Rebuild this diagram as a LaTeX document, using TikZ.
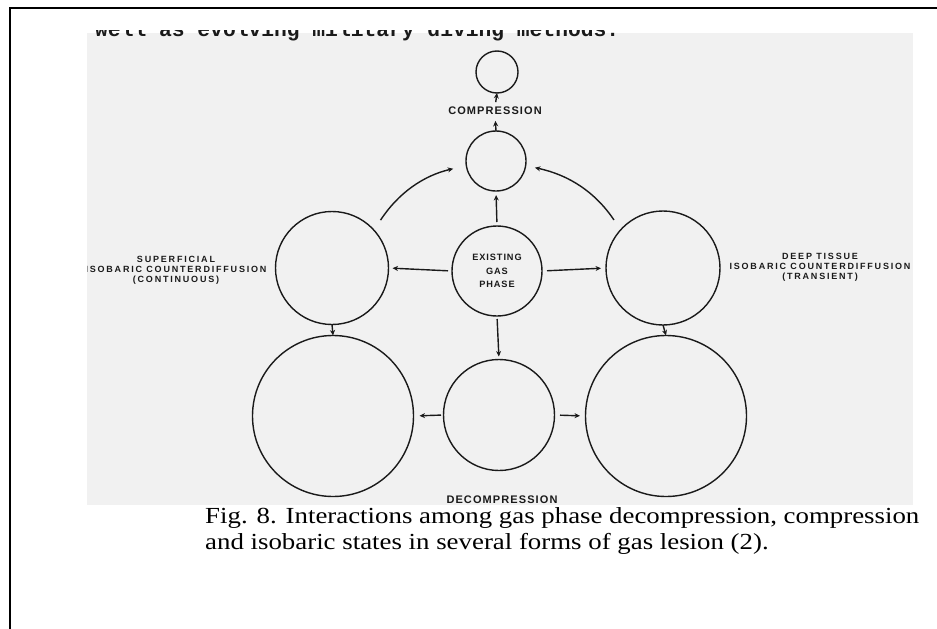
\documentclass[tikz,border=0pt]{standalone}
\usepackage{fontspec}
\setmainfont{Liberation Serif}
\newfontfamily\labfont[LetterSpace=10]{Liberation Sans}
\newfontfamily\widelabfont[LetterSpace=20]{Liberation Sans}
\newfontfamily\typefont{Liberation Mono}
\usetikzlibrary{arrows.meta,calc}
\definecolor{scan}{HTML}{F1F1F1}
\definecolor{ink}{HTML}{1A1A1A}
\begin{document}
\begin{tikzpicture}[x=1pt,y=-1pt,
  circ/.style={circle,draw=ink,line width=1.4pt,inner sep=0pt,outer sep=0pt},
  arr/.style={draw=ink,line width=1.4pt,-{Stealth[length=5.5pt,width=5pt]}},
  lab/.style={text=ink,font=\labfont\bfseries\fontsize{11}{12}\selectfont,inner sep=0pt,outer sep=0pt,align=center},
  midlab/.style={text=ink,font=\labfont\bfseries\fontsize{9.2}{13.5}\selectfont,align=center},
  sidelab/.style={text=ink,font=\widelabfont\bfseries\fontsize{9}{10.2}\selectfont,inner sep=0pt,align=center},
  captext/.style={font=\fontsize{23}{26}\selectfont,inner sep=0pt,anchor=base west}
]
\useasboundingbox (0,0) rectangle (937,629);
\fill[white] (0,0) rectangle (937,629);
\fill[scan] (87,33) rectangle (913,505);
\begin{scope}
  \clip (87,30.5) rectangle (913,505);
  \node[inner sep=0pt,anchor=base west,text=ink,font=\typefont\bfseries\fontsize{21.3}{22}\selectfont] (toptext) at (95,36) {well as evolving military diving methods.};
  % circles
  \node[circ,minimum size=42pt] (top) at (497,72) {};
  \node[lab] (complab) at (495,111) {COMPRESSION};
  \node[circ,minimum size=60pt] (comp) at (496,161) {};
  \node[circ,minimum size=90pt,midlab] (exist) at (497,271) {EXISTING\\GAS\\PHASE};
  \node[circ,minimum size=113pt] (left) at (332,268) {};
  \node[circ,minimum size=114pt] (right) at (663,268) {};
  \node[circ,minimum size=161pt] (bl) at (333,416) {};
  \node[circ,minimum size=111pt] (dec) at (499,415) {};
  \node[circ,minimum size=161pt] (br) at (666,416) {};
  \node[lab] (declab) at (502,500) {DECOMPRESSION};
  \node[sidelab] (leftlab) at (176,270) {SUPERFICIAL\\ISOBARIC COUNTERDIFFUSION\\(CONTINUOUS)};
  \node[sidelab] (rightlab) at (820,267) {DEEP TISSUE\\ISOBARIC COUNTERDIFFUSION\\(TRANSIENT)};
  % arrows
  \draw[arr,shorten >=6pt] (comp.north) -- (complab.south);
  \draw[arr,shorten <=5pt] (complab.north) -- (top.south);
  \draw[arr,shorten <=4pt,shorten >=4pt] (exist.north) -- (comp.south);
  \draw[arr,shorten <=4pt,shorten >=4pt] (exist.west) -- (left.east);
  \draw[arr,shorten <=5pt,shorten >=5pt] (exist.east) -- (right.west);
  \draw[arr,shorten <=3pt,shorten >=3pt] (exist.south) -- (dec.north);
  \draw[arr] (left.south) -- (bl.north);
  \draw[arr] (right.south) -- (br.north);
  \draw[arr,shorten <=2.5pt,shorten >=6pt] (dec.west) -- (bl.east);
  \draw[arr,shorten <=5.5pt,shorten >=5.5pt] (dec.east) -- (br.west);
  \draw[arr,shorten <=12pt,shorten >=13.5pt] (left.42) to[bend left=22] (comp.189);
  \draw[arr,shorten <=12pt,shorten >=9.5pt] (right.138) to[bend right=22] (comp.351);
\end{scope}
% frame
\draw[line width=2.2pt] (10,629) -- (10,8) -- (937,8);
% caption
\node[captext] (cap1) at (205,523) {\scalebox{1.167}[1]{Fig. 8. Interactions among gas phase decompression, compression}};
\node[captext] (cap2) at (205,549) {\scalebox{1.167}[1]{and isobaric states in several forms of gas lesion (2).}};
\end{tikzpicture}
\end{document}
